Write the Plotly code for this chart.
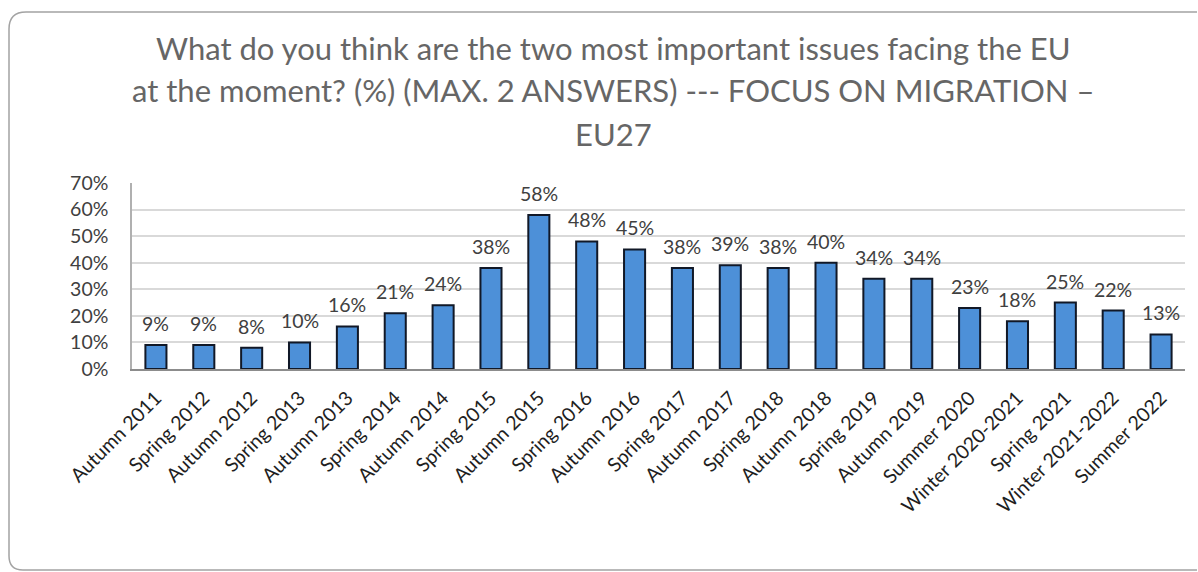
import plotly.graph_objects as go

# Survey waves and share of respondents naming immigration (%)
waves = [
    "Autumn 2011", "Spring 2012", "Autumn 2012", "Spring 2013", "Autumn 2013",
    "Spring 2014", "Autumn 2014", "Spring 2015", "Autumn 2015", "Spring 2016",
    "Autumn 2016", "Spring 2017", "Autumn 2017", "Spring 2018", "Autumn 2018",
    "Spring 2019", "Autumn 2019", "Summer 2020", "Winter 2020-2021",
    "Spring 2021", "Winter 2021-2022", "Summer 2022",
]
share = [9, 9, 8, 10, 16, 21, 24, 38, 58, 48, 45, 38, 39, 38, 40,
         34, 34, 23, 18, 25, 22, 13]

title_lines = [
    "What do you think are the two most important issues facing the EU",
    "at the moment? (%) (MAX. 2 ANSWERS) --- FOCUS ON MIGRATION \u2013",
    "EU27",
]
y_ticks = [0, 10, 20, 30, 40, 50, 60, 70]
y_tick_text = [f"{t}%" for t in y_ticks]

W, H = 1198, 572
L, R, T, B = 132, 13, 183, 203
PW, PH = W - L - R, H - T - B
FONT = "Lato, Carlito, 'Open Sans', sans-serif"


def px(x):
    return (x - L) / PW


def py(y):
    return (H - B - y) / PH


fig = go.Figure()
fig.add_trace(go.Bar(
    x=waves, y=share, width=0.44,
    marker=dict(color="#4d90d8", line=dict(color="#111827", width=2)),
    hoverinfo="x+y",
))

# value labels above each bar
for w, v in zip(waves, share):
    fig.add_annotation(
        x=w, y=v, text=f"{v}%", showarrow=False, yanchor="bottom", yshift=8,
        font=dict(family=FONT, size=19.5, color="#404040"),
    )

# three-line heading
for line, ypix in zip(title_lines, [48, 90, 134]):
    fig.add_annotation(
        xref="paper", yref="paper", x=px(613), y=py(ypix),
        text=line, showarrow=False, xanchor="center", yanchor="middle",
        font=dict(family=FONT, size=31, color="#666666"),
    )

# rounded card outline
card = (
    f"M {px(1197)},{py(12)} L {px(26)},{py(12)} "
    f"Q {px(9)},{py(12)} {px(9)},{py(29)} "
    f"L {px(9)},{py(556)} Q {px(9)},{py(570)} {px(23)},{py(570)} "
    f"L {px(1197)},{py(570)}"
)
fig.add_shape(type="path", path=card, xref="paper", yref="paper",
              line=dict(color="#a3a3a3", width=1.5), layer="below")

fig.update_layout(
    width=W, height=H,
    margin=dict(l=L, r=R, t=T, b=B, pad=0),
    paper_bgcolor="white", plot_bgcolor="white",
    showlegend=False,
    font=dict(family=FONT, size=18, color="#404040"),
    xaxis=dict(
        tickangle=-45, showgrid=False, showline=True, linecolor="#8c8c8c",
        linewidth=2, ticks="", ticklabelstandoff=8,
        tickfont=dict(family=FONT, size=19.5, color="#1f1f1f"),
        range=[-0.5, len(waves) - 0.5],
    ),
    yaxis=dict(
        range=[0, 70], tickvals=y_ticks, ticktext=y_tick_text,
        showgrid=True, gridcolor="#d9d9d9", gridwidth=1.5,
        showline=True, linecolor="#b0b0b0", linewidth=1.5,
        zeroline=False, ticks="", ticklabelstandoff=18,
        tickfont=dict(family=FONT, size=19.5, color="#404040"),
    ),
)

fig.write_html("out.html")
